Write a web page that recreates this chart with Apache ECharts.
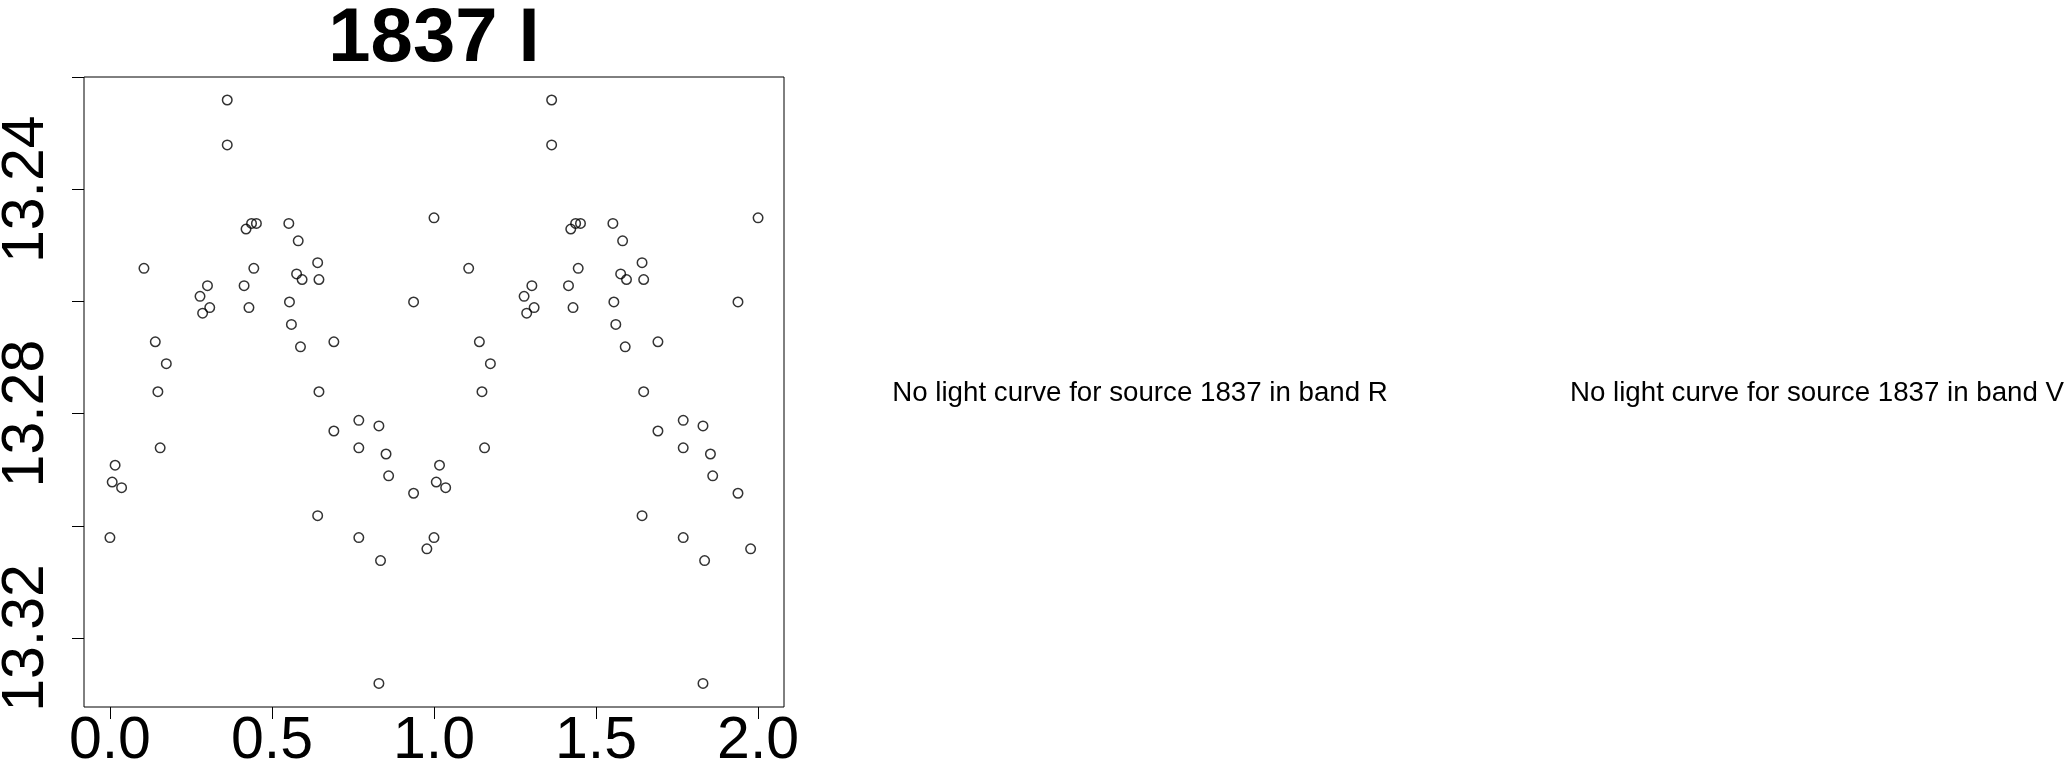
<!DOCTYPE html>
<html>
<head>
<meta charset="utf-8">
<script src="https://cdn.jsdelivr.net/npm/echarts@6/dist/echarts.min.js"></script>
<style>
html,body{margin:0;padding:0;background:#fff;}
#chart{width:2064px;height:765px;}
</style>
</head>
<body>
<div id="chart"></div>
<script>
// ---- data ----
const chartTitle = '1837 I';
const noteR = 'No light curve for source 1837 in band R';
const noteV = 'No light curve for source 1837 in band V';

const phases = [
  0.000, 0.007, 0.016, 0.036, 0.105, 0.140, 0.148, 0.155, 0.174, 0.278,
  0.286, 0.301, 0.308, 0.362, 0.362, 0.414, 0.420, 0.429, 0.437, 0.444,
  0.452, 0.552, 0.554, 0.560, 0.576, 0.581, 0.588, 0.593, 0.641, 0.641,
  0.645, 0.645, 0.691, 0.691, 0.768, 0.768, 0.768, 0.830, 0.830, 0.835,
  0.852, 0.860, 0.937, 0.937, 0.978, 1.000,
  1.000, 1.007, 1.017, 1.036, 1.107, 1.140, 1.148, 1.156, 1.174, 1.278,
  1.286, 1.302, 1.309, 1.363, 1.363, 1.415, 1.422, 1.429, 1.437, 1.445,
  1.452, 1.552, 1.555, 1.561, 1.576, 1.582, 1.590, 1.594, 1.642, 1.642,
  1.647, 1.647, 1.691, 1.691, 1.769, 1.769, 1.769, 1.830, 1.830, 1.835,
  1.853, 1.860, 1.938, 1.938, 1.977, 2.000
];
const mags = [
  13.3021, 13.2922, 13.2892, 13.2932, 13.2541, 13.2672, 13.2761, 13.2861, 13.2711, 13.2591,
  13.2621, 13.2572, 13.2611, 13.2241, 13.2321, 13.2572, 13.2471, 13.2611, 13.2461, 13.2541,
  13.2461, 13.2461, 13.2601, 13.2641, 13.2551, 13.2492, 13.2681, 13.2561, 13.2531, 13.2982,
  13.2561, 13.2761, 13.2672, 13.2831, 13.2812, 13.2861, 13.3021, 13.2822, 13.3281, 13.3062,
  13.2872, 13.2911, 13.2601, 13.2942, 13.3041, 13.2451,
  13.3021, 13.2922, 13.2892, 13.2932, 13.2541, 13.2672, 13.2761, 13.2861, 13.2711, 13.2591,
  13.2621, 13.2572, 13.2611, 13.2241, 13.2321, 13.2572, 13.2471, 13.2611, 13.2461, 13.2541,
  13.2461, 13.2461, 13.2601, 13.2641, 13.2551, 13.2492, 13.2681, 13.2561, 13.2531, 13.2982,
  13.2561, 13.2761, 13.2672, 13.2831, 13.2812, 13.2861, 13.3021, 13.2822, 13.3281, 13.3062,
  13.2872, 13.2911, 13.2601, 13.2942, 13.3041, 13.2451
];

const xTicks = [0.0, 0.5, 1.0, 1.5, 2.0];
const xTickLabels = ['0.0', '0.5', '1.0', '1.5', '2.0'];
const yTicks = [13.22, 13.24, 13.26, 13.28, 13.30, 13.32];
const yLabelTicks = [13.24, 13.28, 13.32];
const yTickLabels = ['13.24', '13.28', '13.32'];

// ---- chart ----
const FONT = '"Liberation Sans", Arial, Helvetica, sans-serif';
const points = phases.map((p, i) => [p, mags[i]]);

const chart = echarts.init(document.getElementById('chart'), null, {renderer: 'canvas'});
chart.setOption({
  animation: false,
  backgroundColor: '#ffffff',
  grid: {
    left: 84, right: 1280, top: 77, bottom: 58,
    show: true, borderColor: '#000', borderWidth: 1, backgroundColor: 'transparent',
    containLabel: false, outerBoundsMode: 'none'
  },
  xAxis: {
    type: 'value', min: -0.08, max: 2.08, position: 'bottom',
    splitLine: {show: false},
    axisLine: {show: false, onZero: false},
    axisTick: {show: true, length: 12, lineStyle: {color: '#000', width: 1}, customValues: xTicks},
    axisLabel: {
      show: true, customValues: xTicks, margin: 5,
      fontSize: 59, fontFamily: FONT, color: '#000',
      formatter: v => { const i = xTicks.findIndex(t => Math.abs(t - v) < 1e-6); return i >= 0 ? xTickLabels[i] : ''; }
    }
  },
  yAxis: {
    type: 'value', inverse: true, min: 13.22, max: 13.3323, position: 'left',
    splitLine: {show: false},
    axisLine: {show: false, onZero: false},
    axisTick: {show: true, length: 12, lineStyle: {color: '#000', width: 1}, customValues: yTicks},
    axisLabel: {
      show: true, customValues: yLabelTicks, rotate: 90, margin: 28,
      fontSize: 59, fontFamily: FONT, color: '#000',
      formatter: v => { const i = yLabelTicks.findIndex(t => Math.abs(t - v) < 1e-6); return i >= 0 ? yTickLabels[i] : ''; }
    }
  },
  series: [{
    type: 'scatter',
    data: points,
    symbol: 'circle',
    symbolSize: 9.5,
    itemStyle: {color: 'rgba(0,0,0,0)', borderColor: '#000', borderWidth: 1.5},
    emphasis: {disabled: true}
  }],
  graphic: [
    {type: 'text', x: 434, y: 40,
     style: {text: chartTitle, font: 'bold 76px ' + FONT, fill: '#000', textAlign: 'center', textVerticalAlign: 'middle'}},
    {type: 'text', x: 1140, y: 393,
     style: {text: noteR, font: '27.7px ' + FONT, fill: '#000', textAlign: 'center', textVerticalAlign: 'middle'}},
    {type: 'text', x: 1817, y: 393,
     style: {text: noteV, font: '27.7px ' + FONT, fill: '#000', textAlign: 'center', textVerticalAlign: 'middle'}}
  ]
});
</script>
</body>
</html>
